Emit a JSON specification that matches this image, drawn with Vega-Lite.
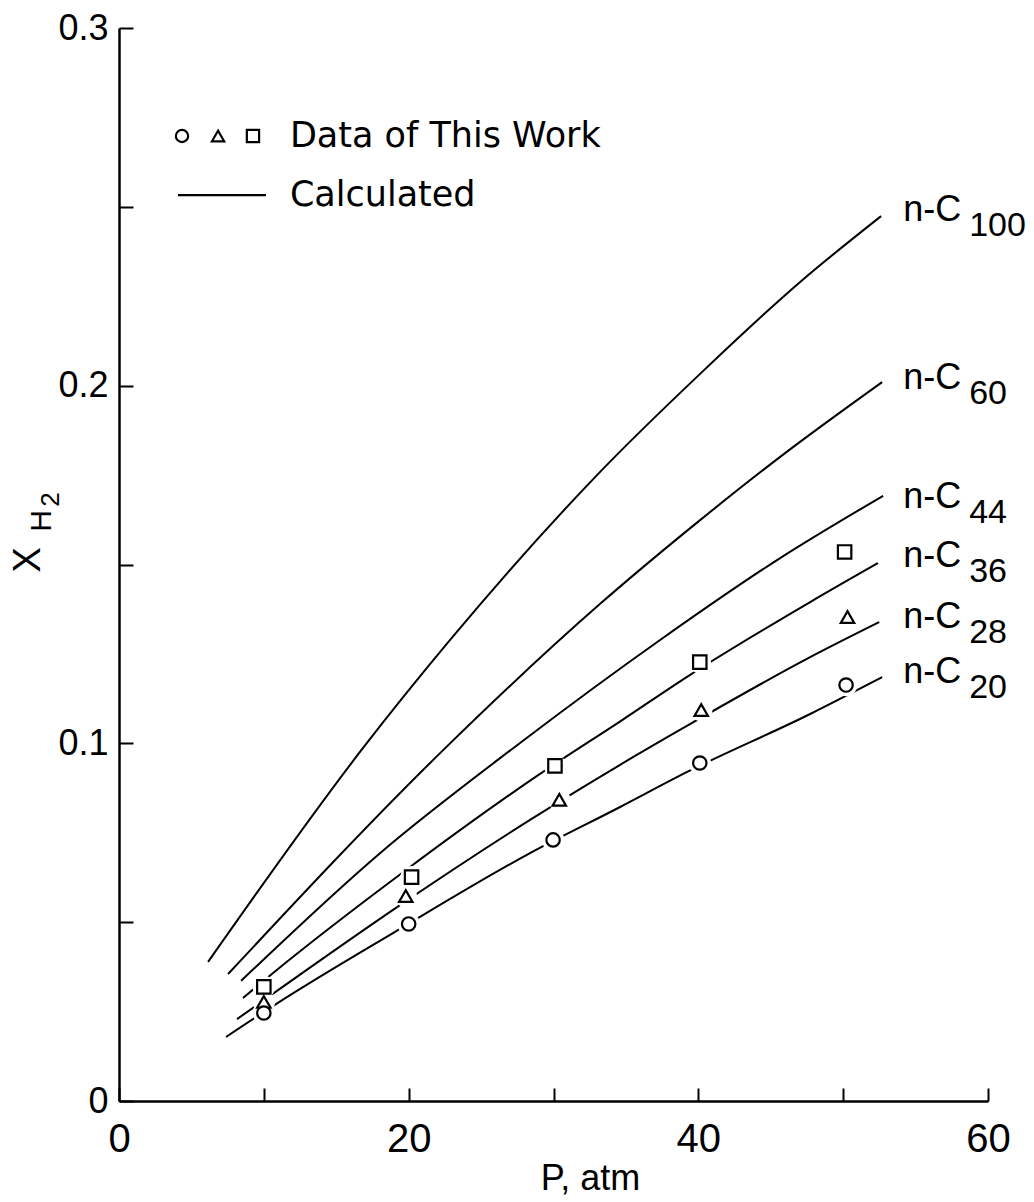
{
  "$schema": "https://vega.github.io/schema/vega-lite/v6.json",
  "width": 869,
  "height": 1073,
  "autosize": "none",
  "padding": {"left": 119, "top": 28, "right": 46, "bottom": 101},
  "background": "white",
  "config": {
    "view": {"stroke": null},
    "font": "Liberation Sans"
  },
  "datasets": {
    "curves": [
      {"series": "n-C100", "P": 6.15, "X": 0.0389},
      {"series": "n-C100", "P": 16.85, "X": 0.0987},
      {"series": "n-C100", "P": 22.86, "X": 0.1289},
      {"series": "n-C100", "P": 33.22, "X": 0.1759},
      {"series": "n-C100", "P": 40.12, "X": 0.2033},
      {"series": "n-C100", "P": 47.03, "X": 0.229},
      {"series": "n-C100", "P": 52.62, "X": 0.2474},
      {"series": "n-C60", "P": 7.53, "X": 0.0355},
      {"series": "n-C60", "P": 22.38, "X": 0.0981},
      {"series": "n-C60", "P": 33.22, "X": 0.139},
      {"series": "n-C60", "P": 40.12, "X": 0.1624},
      {"series": "n-C60", "P": 45.65, "X": 0.1801},
      {"series": "n-C60", "P": 52.69, "X": 0.201},
      {"series": "n-C44", "P": 8.43, "X": 0.0336},
      {"series": "n-C44", "P": 18.02, "X": 0.0693},
      {"series": "n-C44", "P": 27.69, "X": 0.1001},
      {"series": "n-C44", "P": 37.36, "X": 0.1289},
      {"series": "n-C44", "P": 45.65, "X": 0.1518},
      {"series": "n-C44", "P": 52.76, "X": 0.1692},
      {"series": "n-C36", "P": 8.56, "X": 0.0288},
      {"series": "n-C36", "P": 10.64, "X": 0.0358},
      {"series": "n-C36", "P": 19.82, "X": 0.0646},
      {"series": "n-C36", "P": 28.94, "X": 0.0911},
      {"series": "n-C36", "P": 34.74, "X": 0.1065},
      {"series": "n-C36", "P": 39.3, "X": 0.1188},
      {"series": "n-C36", "P": 47.72, "X": 0.1395},
      {"series": "n-C36", "P": 52.4, "X": 0.1504},
      {"series": "n-C28", "P": 8.15, "X": 0.0229},
      {"series": "n-C28", "P": 10.98, "X": 0.031},
      {"series": "n-C28", "P": 19.2, "X": 0.0542},
      {"series": "n-C28", "P": 28.38, "X": 0.0786},
      {"series": "n-C28", "P": 34.6, "X": 0.094},
      {"series": "n-C28", "P": 39.57, "X": 0.1057},
      {"series": "n-C28", "P": 47.72, "X": 0.1241},
      {"series": "n-C28", "P": 52.49, "X": 0.1339},
      {"series": "n-C20", "P": 7.39, "X": 0.0179},
      {"series": "n-C20", "P": 10.84, "X": 0.0271},
      {"series": "n-C20", "P": 19.06, "X": 0.0473},
      {"series": "n-C20", "P": 28.38, "X": 0.0693},
      {"series": "n-C20", "P": 34.6, "X": 0.0822},
      {"series": "n-C20", "P": 39.23, "X": 0.092},
      {"series": "n-C20", "P": 47.72, "X": 0.1082},
      {"series": "n-C20", "P": 52.69, "X": 0.1185}
    ],
    "points": [
      {"series": "n-C36", "P": 10.0, "X": 0.0319},
      {"series": "n-C28", "P": 10.0, "X": 0.0277},
      {"series": "n-C20", "P": 10.0, "X": 0.0246},
      {"series": "n-C36", "P": 20.2, "X": 0.0626},
      {"series": "n-C28", "P": 19.8, "X": 0.0573},
      {"series": "n-C20", "P": 20.0, "X": 0.0495},
      {"series": "n-C36", "P": 30.1, "X": 0.0937},
      {"series": "n-C28", "P": 30.4, "X": 0.0842},
      {"series": "n-C20", "P": 29.97, "X": 0.073},
      {"series": "n-C36", "P": 40.1, "X": 0.1227},
      {"series": "n-C28", "P": 40.2, "X": 0.1093},
      {"series": "n-C20", "P": 40.1, "X": 0.0945},
      {"series": "n-C36", "P": 50.1, "X": 0.1535},
      {"series": "n-C28", "P": 50.3, "X": 0.1353},
      {"series": "n-C20", "P": 50.2, "X": 0.1163}
    ],
    "labels": [
      {"main": "n-C", "sub": "100", "P": 54.14, "X": 0.246},
      {"main": "n-C", "sub": "60", "P": 54.14, "X": 0.1991},
      {"main": "n-C", "sub": "44", "P": 54.14, "X": 0.1658},
      {"main": "n-C", "sub": "36", "P": 54.14, "X": 0.1493},
      {"main": "n-C", "sub": "28", "P": 54.14, "X": 0.1323},
      {"main": "n-C", "sub": "20", "P": 54.14, "X": 0.1169}
    ],
    "legendSym": [
      {"series": "n-C20", "P": 4.35, "X": 0.2698},
      {"series": "n-C28", "P": 6.84, "X": 0.2698},
      {"series": "n-C36", "P": 9.25, "X": 0.2698}
    ],
    "legendLine": [
      {"P": 4.07, "P2": 10.15, "X": 0.2533}
    ],
    "legendText": [
      {"text": "Data of This Work", "P": 11.8, "X": 0.2698},
      {"text": "Calculated", "P": 11.8, "X": 0.2533}
    ],
    "ytitleMain": [{"t": "X", "P": -6.2, "X": 0.1513}],
    "ytitleSub": [{"t": "H", "P": -5.3, "X": 0.1622}],
    "ytitleSub2": [{"t": "2", "P": -4.7, "X": 0.1682}]
  },
  "layer": [
    {
      "data": {"name": "curves"},
      "mark": {"type": "line", "color": "black", "strokeWidth": 2, "interpolate": "monotone"},
      "encoding": {
        "x": {
          "field": "P", "type": "quantitative",
          "scale": {"domain": [0, 60], "nice": false, "zero": false},
          "axis": {
            "title": "P, atm",
            "values": [0, 10, 20, 30, 40, 50, 60],
            "labelExpr": "datum.value % 20 == 0 ? datum.label : ''",
            "grid": false,
            "domainColor": "black", "domainWidth": 2.5,
            "tickColor": "black", "tickWidth": 2, "tickSize": -13,
            "labelFont": "Liberation Sans", "labelFontSize": 40, "labelColor": "black",
            "labelPadding": 31, "labelFlush": false, "labelOverlap": false,
            "titleFont": "Liberation Sans", "titleFontSize": 36, "titleFontWeight": "normal",
            "titleColor": "black", "titleX": 471, "titleY": 88, "titleBaseline": "alphabetic"
          }
        },
        "y": {
          "field": "X", "type": "quantitative",
          "scale": {"domain": [0, 0.3], "nice": false, "zero": false},
          "axis": {
            "title": null,
            "values": [0, 0.05, 0.1, 0.15, 0.2, 0.25, 0.3],
            "format": ".2~f",
            "labelExpr": "round(datum.value * 100) % 10 == 0 ? datum.label : ''",
            "grid": false,
            "domainColor": "black", "domainWidth": 2.5,
            "tickColor": "black", "tickWidth": 2, "tickSize": -14,
            "labelFont": "Liberation Sans", "labelFontSize": 36, "labelColor": "black",
            "labelPadding": 25, "labelFlush": false, "labelOverlap": false
          }
        },
        "detail": {"field": "series"}
      }
    },
    {
      "data": {"name": "points"},
      "mark": {"type": "point", "shape": "circle", "filled": true, "fill": "white", "stroke": null, "size": 500, "opacity": 1},
      "encoding": {
        "x": {"field": "P", "type": "quantitative"},
        "y": {"field": "X", "type": "quantitative"}
      }
    },
    {
      "data": {"name": "points"},
      "mark": {"type": "point", "filled": true, "fill": "white", "stroke": "black", "strokeWidth": 2.2, "size": 180, "opacity": 1},
      "encoding": {
        "x": {"field": "P", "type": "quantitative"},
        "y": {"field": "X", "type": "quantitative"},
        "shape": {
          "field": "series", "type": "nominal",
          "scale": {"domain": ["n-C20", "n-C28", "n-C36"], "range": ["circle", "triangle-up", "square"]},
          "legend": null
        }
      }
    },
    {
      "data": {"name": "legendSym"},
      "mark": {"type": "point", "filled": true, "fill": "white", "stroke": "black", "strokeWidth": 2.2, "size": 150, "opacity": 1},
      "encoding": {
        "x": {"field": "P", "type": "quantitative"},
        "y": {"field": "X", "type": "quantitative"},
        "shape": {"field": "series", "type": "nominal", "legend": null}
      }
    },
    {
      "data": {"name": "legendLine"},
      "mark": {"type": "rule", "color": "black", "strokeWidth": 2.2},
      "encoding": {
        "x": {"field": "P", "type": "quantitative"},
        "x2": {"field": "P2"},
        "y": {"field": "X", "type": "quantitative"}
      }
    },
    {
      "data": {"name": "legendText"},
      "mark": {"type": "text", "font": "DejaVu Sans", "fontSize": 35, "align": "left", "baseline": "middle", "color": "black"},
      "encoding": {
        "x": {"field": "P", "type": "quantitative"},
        "y": {"field": "X", "type": "quantitative"},
        "text": {"field": "text"}
      }
    },
    {
      "data": {"name": "labels"},
      "mark": {"type": "text", "font": "Liberation Sans", "fontSize": 36, "align": "left", "baseline": "alphabetic", "color": "black"},
      "encoding": {
        "x": {"field": "P", "type": "quantitative"},
        "y": {"field": "X", "type": "quantitative"},
        "text": {"field": "main"}
      }
    },
    {
      "data": {"name": "labels"},
      "mark": {"type": "text", "font": "Liberation Sans", "fontSize": 34, "align": "left", "baseline": "alphabetic", "color": "black", "dx": 66, "dy": 15},
      "encoding": {
        "x": {"field": "P", "type": "quantitative"},
        "y": {"field": "X", "type": "quantitative"},
        "text": {"field": "sub"}
      }
    },
    {
      "data": {"name": "ytitleMain"},
      "mark": {"type": "text", "font": "Liberation Sans", "fontSize": 38, "align": "center", "baseline": "middle", "angle": 270, "color": "black"},
      "encoding": {
        "x": {"field": "P", "type": "quantitative"},
        "y": {"field": "X", "type": "quantitative"},
        "text": {"field": "t"}
      }
    },
    {
      "data": {"name": "ytitleSub"},
      "mark": {"type": "text", "font": "Liberation Sans", "fontSize": 30, "align": "center", "baseline": "middle", "angle": 270, "color": "black"},
      "encoding": {
        "x": {"field": "P", "type": "quantitative"},
        "y": {"field": "X", "type": "quantitative"},
        "text": {"field": "t"}
      }
    },
    {
      "data": {"name": "ytitleSub2"},
      "mark": {"type": "text", "font": "Liberation Sans", "fontSize": 26, "align": "center", "baseline": "middle", "angle": 270, "color": "black"},
      "encoding": {
        "x": {"field": "P", "type": "quantitative"},
        "y": {"field": "X", "type": "quantitative"},
        "text": {"field": "t"}
      }
    }
  ]
}
